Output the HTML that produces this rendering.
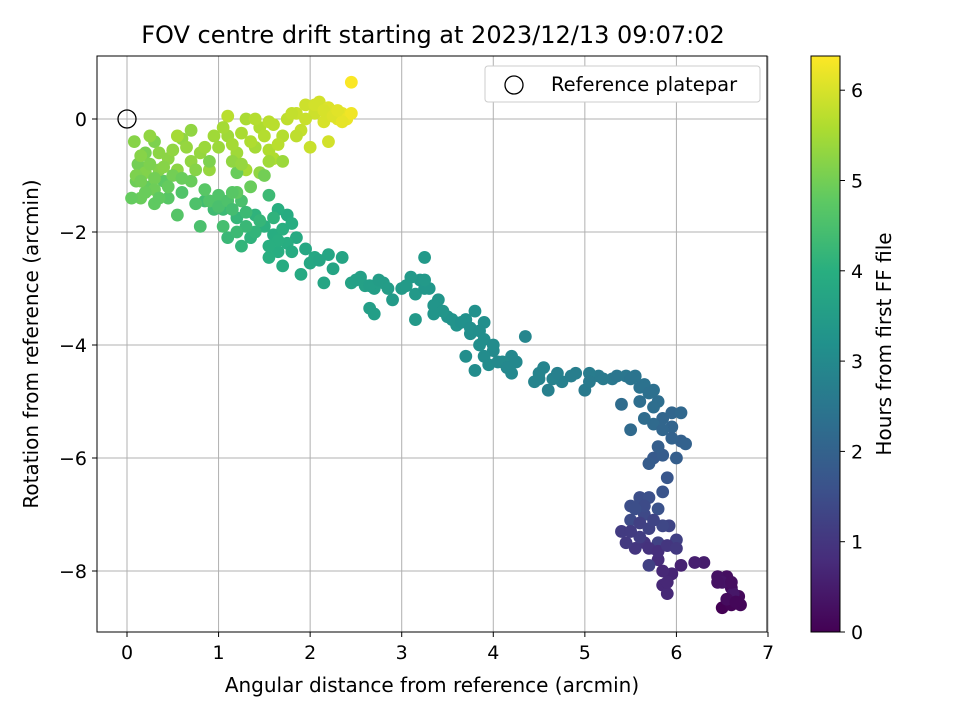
<!DOCTYPE html>
<html><head><meta charset="utf-8"><style>
body{margin:0;background:#fff;font-family:"Liberation Sans","DejaVu Sans",sans-serif;}
svg text{font-family:"DejaVu Sans","Liberation Sans",sans-serif;fill:#000;}
</style></head><body>
<svg id="chart" width="960" height="720" viewBox="0 0 960 720" xmlns="http://www.w3.org/2000/svg">
<defs>
<linearGradient id="vir" x1="0" y1="1" x2="0" y2="0">
<stop offset="0" stop-color="#440154"/><stop offset="0.125" stop-color="#472d7b"/><stop offset="0.25" stop-color="#3b528b"/><stop offset="0.375" stop-color="#2c728e"/><stop offset="0.5" stop-color="#21918c"/><stop offset="0.625" stop-color="#28ae80"/><stop offset="0.75" stop-color="#5ec962"/><stop offset="0.875" stop-color="#addc30"/><stop offset="1" stop-color="#fde725"/>
</linearGradient>
<clipPath id="clip"><rect x="97" y="56" width="670" height="576"/></clipPath>
</defs>
<text x="433" y="43" font-size="24" text-anchor="middle">FOV centre drift starting at 2023/12/13 09:07:02</text>
<g id="grid"></g>
<g id="points" clip-path="url(#clip)"></g>
<rect x="97" y="56" width="670" height="576" fill="none" stroke="#000" stroke-width="1"/>
<g id="axes"></g>
<text x="432" y="692" font-size="20" text-anchor="middle">Angular distance from reference (arcmin)</text>
<text transform="translate(38,344) rotate(-90)" font-size="20" text-anchor="middle">Rotation from reference (arcmin)</text>
<g>
<rect x="485" y="66" width="275" height="36" rx="3" fill="#fff" stroke="#ccc"/>
<circle cx="514" cy="85" r="9" fill="none" stroke="#000" stroke-width="1.3"/>
<text x="551" y="91" font-size="19.5">Reference platepar</text>
</g>
<rect x="811" y="56" width="29" height="576" fill="url(#vir)" stroke="#000" stroke-width="1"/>
<g id="cbar"></g>
<text transform="translate(891,344) rotate(-90)" font-size="20" text-anchor="middle">Hours from first FF file</text>
</svg>
<script>
const xTicks=[0,1,2,3,4,5,6,7];
const yTicks=[0,-2,-4,-6,-8];
const cTicks=[0,1,2,3,4,5,6];
const xs=[6.5,6.6,6.7,6.68,6.6,6.55,6.45,6.5,6.62,6.3,6.2,6.05,5.95,5.85,5.9,5.8,5.75,5.65,5.55,5.45,5.4,5.6,5.7,5.8,5.92,6.0,5.85,5.65,5.5,5.6,5.7,5.5,5.8,5.85,5.9,5.75,5.85,6.0,6.05,6.1,5.95,5.85,5.95,6.05,5.75,5.5,5.4,5.6,5.8,5.75,5.65,5.55,5.45,5.3,5.15,5.05,5.0,4.9,4.75,4.65,4.5,4.55,4.6,4.35,4.2,4.2,4.1,4.0,3.95,3.8,3.85,3.75,3.7,3.9,3.8,3.7,3.6,3.5,3.35,3.4,3.3,3.2,3.25,3.1,3.15,3.0,2.9,2.8,2.7,2.65,2.6,2.55,2.45,2.35,2.25,2.15,2.2,2.05,1.95,1.9,1.85,1.75,1.7,1.65,1.6,1.55,1.5,1.4,1.35,1.25,1.2,1.1,1.05,0.95,0.85,1.05,0.8,0.75,0.6,0.55,0.45,0.4,0.3,0.25,0.15,0.1,0.12,0.2,0.3,0.2,0.35,0.08,0.45,0.55,0.6,0.7,0.8,0.9,1.0,1.1,1.2,1.3,1.4,1.3,1.45,1.55,1.6,1.7,1.6,1.75,1.9,1.85,2.0,2.05,2.1,2.15,2.2,2.3,2.35,2.4,2.45,2.45,1.1,1.65,1.25,1.0,1.2,0.7,0.5,1.55,1.2,1.45,1.5,0.55,0.25,0.9,2.2,1.95,
0.1,0.15,0.25,0.3,0.35,0.4,0.5,0.65,0.7,0.85,0.95,1.05,1.15,1.25,1.35,1.4,1.5,1.55,1.65,1.8,1.85,1.95,2.05,2.15,2.25,2.35,2.3,1.15,1.25,0.75,0.3,0.2,0.45,0.6,0.35,0.05,0.15,1.35,1.7,1.55,
0.9,1.0,1.1,1.15,1.3,1.45,1.6,1.7,1.8,1.75,1.65,1.4,1.3,1.2,1.55,1.8,2.0,2.1,1.15,0.85,
2.5,2.65,2.75,2.85,3.05,3.15,3.25,3.35,3.45,3.55,3.65,3.75,3.85,3.9,4.0,3.9,4.05,4.15,4.25,4.5,4.45,4.7,4.85,5.05,5.2,5.35,5.5,5.6,5.7,5.75,5.65,5.85,5.95,5.8,5.7,2.7,3.25,
5.5,5.6,5.7,5.75,5.65,5.55,5.7,5.8,5.9,6.0,5.85,5.9,6.55,6.65,6.45,6.6];
const ys=[-8.65,-8.6,-8.6,-8.45,-8.3,-8.1,-8.1,-8.2,-8.4,-7.85,-7.85,-7.9,-8.05,-8.25,-8.4,-7.8,-7.6,-7.5,-7.6,-7.5,-7.3,-7.4,-7.9,-7.5,-7.2,-7.45,-7.2,-7.0,-7.1,-6.7,-6.7,-6.85,-6.9,-6.6,-6.35,-6.0,-5.95,-6.0,-5.7,-5.75,-5.45,-5.3,-5.2,-5.2,-5.4,-5.5,-5.05,-5.0,-5.0,-4.8,-4.7,-4.55,-4.55,-4.6,-4.55,-4.5,-4.8,-4.5,-4.65,-4.6,-4.6,-4.4,-4.8,-3.85,-4.2,-4.5,-4.3,-4.1,-4.35,-4.45,-4.0,-3.8,-4.2,-3.6,-3.4,-3.55,-3.65,-3.5,-3.45,-3.2,-3.0,-2.85,-2.45,-2.8,-3.55,-3.0,-3.2,-2.9,-3.0,-3.35,-2.95,-2.8,-2.9,-2.45,-2.65,-2.9,-2.4,-2.45,-2.3,-2.75,-2.1,-1.7,-2.6,-2.35,-2.05,-2.45,-1.9,-1.7,-2.1,-2.25,-1.75,-2.1,-1.6,-1.6,-1.45,-1.9,-1.9,-1.5,-1.3,-1.7,-1.4,-1.1,-1.5,-1.2,-1.4,-1.1,-0.8,-0.6,-0.4,-0.95,-0.9,-0.4,-0.7,-0.9,-0.35,-0.2,-0.6,-0.9,-0.5,-0.3,-0.6,-0.9,-0.5,0.0,-0.15,-0.55,-0.7,-0.3,-0.1,0.0,-0.2,0.1,-0.5,0.1,0.3,-0.05,0.2,0.0,0.1,0.0,0.1,0.65,0.05,-1.6,-1.45,-1.35,-1.3,-1.1,-1.0,-1.35,-0.95,-0.95,-1.0,-0.3,-0.3,-0.75,-0.4,0.25,
-1.0,-0.65,-0.8,-1.05,-0.6,-0.85,-0.55,-0.5,-0.75,-0.5,-0.3,-0.15,-0.45,-0.25,-0.4,0.0,-0.3,-0.05,-0.45,0.1,-0.3,0.0,0.25,0.15,0.05,-0.05,0.15,-0.75,-0.8,-0.9,-1.25,-1.3,-1.2,-1.05,-1.4,-1.4,-1.1,-1.2,-0.75,-0.75,
-1.45,-1.55,-1.45,-1.6,-1.65,-1.8,-1.75,-1.95,-1.85,-2.2,-2.15,-2.0,-1.9,-2.0,-2.25,-2.35,-2.55,-2.5,-1.3,-1.25,
-2.85,-2.95,-2.85,-3.0,-2.95,-3.1,-3.0,-3.3,-3.4,-3.55,-3.6,-3.7,-3.75,-3.9,-4.0,-4.2,-4.3,-4.4,-4.3,-4.5,-4.65,-4.5,-4.55,-4.65,-4.6,-4.55,-4.6,-4.75,-4.85,-5.1,-5.3,-5.5,-5.65,-5.8,-6.1,-3.45,-2.85,
-7.3,-7.15,-7.25,-7.1,-6.85,-6.9,-7.6,-7.65,-7.55,-7.6,-8.0,-8.2,-8.5,-8.55,-8.2,-8.2];
const hours=[0.0,0.05,0.1,0.15,0.2,0.25,0.3,0.35,0.4,0.5,0.55,0.6,0.65,0.7,0.72,0.8,0.9,0.95,1.0,1.05,1.1,1.15,1.2,1.25,1.3,1.2,1.35,1.4,1.45,1.5,1.55,1.5,1.6,1.65,1.7,1.8,1.85,1.9,1.95,2.0,2.05,2.1,2.1,2.15,2.2,2.2,2.25,2.3,2.3,2.35,2.4,2.45,2.5,2.55,2.6,2.65,2.6,2.7,2.75,2.8,2.8,2.85,2.75,2.9,2.95,2.95,3.0,3.0,3.05,3.05,3.1,3.1,3.1,3.15,3.2,3.2,3.25,3.25,3.3,3.3,3.35,3.35,3.4,3.4,3.4,3.45,3.45,3.5,3.55,3.55,3.6,3.6,3.65,3.7,3.7,3.75,3.75,3.8,3.8,3.85,3.85,3.9,3.9,3.95,3.95,4.0,4.05,4.1,4.1,4.15,4.2,4.25,4.3,4.35,4.4,4.45,4.5,4.55,4.6,4.65,4.7,4.75,4.8,4.85,4.9,4.95,5.0,5.05,5.1,5.15,5.15,5.2,5.25,5.25,5.3,5.3,5.35,5.35,5.4,5.45,5.45,5.5,5.5,5.55,5.6,5.6,5.6,5.65,5.7,5.75,5.8,5.85,5.85,5.9,5.95,6.0,6.05,6.1,6.15,6.2,6.25,6.35,5.7,3.98,4.5,4.6,4.8,4.9,5.0,4.3,4.9,5.3,5.0,5.5,5.3,5.1,5.95,5.9,
5.1,5.2,5.1,5.0,5.25,5.2,5.3,5.35,5.3,5.4,5.45,5.5,5.5,5.55,5.6,5.65,5.65,5.7,5.7,5.8,5.75,5.85,5.95,6.0,6.05,6.15,6.1,5.3,5.35,5.2,4.95,4.9,4.85,4.9,4.8,4.85,5.0,4.9,5.4,5.45,
4.6,4.5,4.55,4.4,4.3,4.2,4.1,4.0,3.95,3.95,4.0,4.15,4.25,4.3,4.0,3.9,3.8,3.75,4.7,4.7,
3.6,3.55,3.5,3.5,3.45,3.4,3.35,3.3,3.3,3.25,3.2,3.15,3.1,3.1,3.05,3.05,3.0,2.95,2.95,2.85,2.85,2.75,2.7,2.6,2.6,2.5,2.45,2.4,2.35,2.3,2.25,2.1,2.0,1.9,1.85,3.55,3.4,
1.1,1.2,1.25,1.3,1.45,1.5,0.9,0.85,1.0,1.05,0.7,0.7,0.2,0.1,0.3,0.25];
const NS="http://www.w3.org/2000/svg";
const X=v=>127+v*91.57, Y=v=>119-v*56.5, C=v=>632-v*90.3, HMAX=6.38;
const stops=[[68,1,84],[71,45,123],[59,82,139],[44,114,142],[33,145,140],[40,174,128],[94,201,98],[173,220,48],[253,231,37]];
function vir(t){t=Math.max(0,Math.min(1,t))*8;const i=Math.min(7,Math.floor(t)),f=t-i,a=stops[i],b=stops[i+1];return `rgb(${a.map((c,k)=>Math.round(c+(b[k]-c)*f)).join(',')})`;}
function mk(tag,attrs,parent,txt){const e=document.createElementNS(NS,tag);for(const k in attrs)e.setAttribute(k,attrs[k]);if(txt!==undefined)e.textContent=txt;parent.appendChild(e);return e;}
const grid=document.getElementById('grid'),axes=document.getElementById('axes'),pts=document.getElementById('points'),cbar=document.getElementById('cbar');
xTicks.forEach(t=>{const x=X(t);
 const g=mk('line',{x1:x,x2:x,y1:56,y2:632,stroke:'#b0b0b0','stroke-width':1},grid);
 
 mk('line',{x1:x,x2:x,y1:632,y2:637,stroke:'#000'},axes);
 const l=mk('text',{x:x,y:659,'font-size':19,'text-anchor':'middle'},axes,String(t));
 });
yTicks.forEach(t=>{const y=Y(t);
 const g=mk('line',{x1:97,x2:767,y1:y,y2:y,stroke:'#b0b0b0','stroke-width':1},grid);
 
 mk('line',{x1:92,x2:97,y1:y,y2:y,stroke:'#000'},axes);
 const l=mk('text',{x:87,y:y+7,'font-size':19,'text-anchor':'end'},axes,t<0?'\u2212'+(-t):String(t));
 });
cTicks.forEach(t=>{const y=C(t);
 mk('line',{x1:840,x2:845,y1:y,y2:y,stroke:'#000'},cbar);
 const l=mk('text',{x:851,y:y+7,'font-size':19},cbar,String(t));
 });
xs.forEach((v,i)=>{
 const c=mk('circle',{cx:X(v),cy:Y(ys[i]),r:6.4,fill:vir(hours[i]/HMAX)},pts);
 
 });
const ref=mk('circle',{cx:X(0),cy:Y(0),r:9,fill:'none',stroke:'#000','stroke-width':1.3},pts);


</script>
</body></html>
